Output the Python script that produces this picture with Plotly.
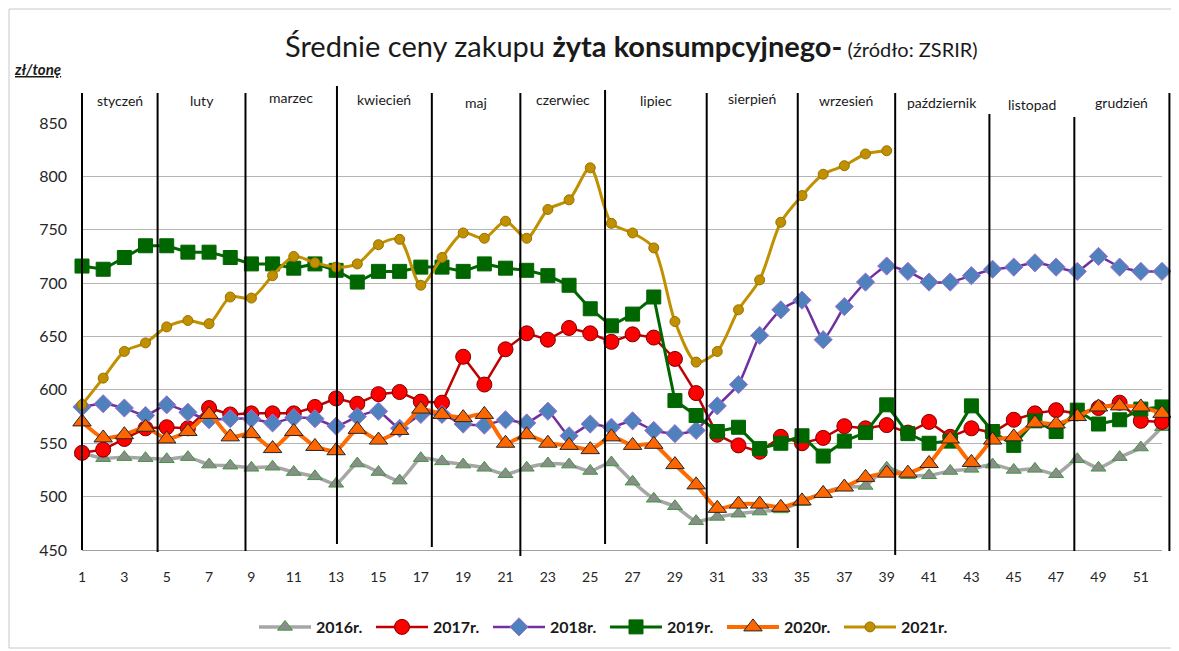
import plotly.graph_objects as go

weeks = list(range(1, 53))
tick_weeks = list(range(1, 53, 2))

y2016 = [541, 536, 537, 536, 535, 537, 530, 529, 527, 528,
         523, 519, 512, 531, 523, 515, 536, 533, 530, 527,
         521, 527, 531, 530, 524, 532, 514, 498, 491, 477,
         481, 484, 486, 488, 495, 504, 509, 510, 527, 520,
         520, 524, 526, 530, 525, 526, 521, 535, 527, 537,
         546, 565]
y2017 = [541, 544, 554, 564, 565, 564, 583, 577, 578, 578,
         578, 584, 592, 587, 596, 598, 589, 588, 631, 605,
         638, 653, 647, 658, 653, 645, 652, 649, 629, 597,
         558, 548, 542, 556, 550, 555, 566, 564, 567, 560,
         570, 556, 564, 560, 572, 578, 581, 578, 583, 588,
         571, 570]
y2018 = [584, 587, 583, 576, 586, 579, 572, 573, 573, 569,
         574, 573, 566, 575, 580, 564, 577, 577, 568, 567,
         572, 569, 580, 557, 568, 565, 571, 562, 559, 562,
         585, 605, 651, 675, 684, 647, 678, 701, 716, 711,
         701, 701, 707, 713, 715, 719, 715, 711, 725, 715,
         711, 711]
y2019 = [716, 713, 724, 735, 735, 729, 729, 724, 718, 718,
         714, 718, 712, 701, 711, 711, 715, 715, 711, 718,
         714, 712, 707, 698, 676, 660, 671, 687, 590, 576,
         561, 565, 545, 550, 557, 538, 552, 560, 586, 559,
         550, 552, 585, 561, 548, 571, 561, 581, 568, 572,
         582, 584]
y2020 = [570, 555, 558, 565, 554, 561, 577, 556, 559, 545,
         561, 547, 543, 563, 553, 562, 582, 577, 574, 577,
         550, 558, 550, 548, 544, 556, 548, 549, 530, 511,
         489, 493, 493, 490, 496, 503, 509, 518, 522, 522,
         531, 554, 532, 553, 556, 569, 568, 575, 584, 585,
         584, 578]
y2021 = [586, 611, 636, 644, 659, 665, 662, 687, 686, 707,
         725, 719, 715, 718, 736, 741, 698, 724, 747, 742,
         758, 742, 769, 778, 808, 756, 747, 733, 664, 626,
         636, 675, 703, 757, 782, 802, 810, 821, 824] + [None] * 13

series_names = ["2016r.", "2017r.", "2018r.", "2019r.", "2020r.", "2021r."]

months = ["styczeń", "luty", "marzec", "kwiecień", "maj", "czerwiec",
          "lipiec", "sierpień", "wrzesień", "październik", "listopad", "grudzień"]
month_ends = [4.57, 8.72, 13.04, 17.52, 21.7, 25.7, 30.5, 34.8, 39.4, 43.85, 47.86, 52.35]

# ---- layout geometry (reference-screen pixels; page body adds an 8px offset) ----
OFF = 8
SW, SH = 1179, 651
PX0, PX1 = 82, 1162     # plot area left/right on screen
PY0, PY1 = 123, 550     # plot area top/bottom on screen
W, H = SW - OFF, SH - OFF
L, T = PX0 - OFF, PY0 - OFF
R, B = W - (PX1 - OFF), H - (PY1 - OFF)
PW, PH = PX1 - PX0, PY1 - PY0
XMIN, XMAX = 1, 52


def px_x(px):
    return (px - PX0) / PW


def px_y(py):
    return (PY1 - py) / PH


def wk_x(w):
    return (w - XMIN) / (XMAX - XMIN)


FONT = "Lato"
fig = go.Figure()

styles = [
    dict(line=dict(color="#a6a6a6", width=3.5, shape="spline", smoothing=0.6),
         marker=dict(symbol="triangle-up", size=13, color="#8c8c8c",
                     line=dict(color="#3d9a3d", width=1))),
    dict(line=dict(color="#c00000", width=2.5),
         marker=dict(symbol="circle", size=15, color="#ff0000",
                     line=dict(color="#7a0000", width=1))),
    dict(line=dict(color="#7030a0", width=2.5, shape="spline", smoothing=0.5),
         marker=dict(symbol="diamond", size=14, color="#4f81bd",
                     line=dict(color="#a070d0", width=1))),
    dict(line=dict(color="#006600", width=3),
         marker=dict(symbol="square", size=14, color="#006600",
                     line=dict(color="#006600", width=1))),
    dict(line=dict(color="#ff6a00", width=4, shape="spline", smoothing=0.6),
         marker=dict(symbol="triangle-up", size=16, color="#ff6600",
                     line=dict(color="#262626", width=1))),
    dict(line=dict(color="#c09000", width=3, shape="spline", smoothing=0.8),
         marker=dict(symbol="circle", size=10, color="#c09000",
                     line=dict(color="#9a7000", width=1))),
]

for name, ys, st in zip(series_names, [y2016, y2017, y2018, y2019, y2020, y2021], styles):
    fig.add_trace(go.Scatter(x=weeks, y=ys, name=name, mode="lines+markers",
                             line=st["line"], marker=st["marker"],
                             cliponaxis=False, connectgaps=False))

shapes = []
shapes.append(dict(type="line", xref="paper", yref="paper",
                   x0=0, x1=0, y0=px_y(550), y1=px_y(93),
                   line=dict(color="black", width=2)))
tops = [93, 93, 86, 93, 93, 90, 93, 93, 93, 114, 117, 93]
bots = [552, 551, 544, 547, 556, 544, 544, 548, 555, 550, 551, 551]
for w, t, b in zip(month_ends, tops, bots):
    xp = wk_x(w)
    shapes.append(dict(type="line", xref="paper", yref="paper",
                       x0=xp, x1=xp, y0=px_y(b), y1=px_y(t),
                       line=dict(color="black", width=2)))
shapes.append(dict(type="rect", xref="paper", yref="paper",
                   x0=px_x(9), x1=px_x(1175), y0=px_y(648), y1=px_y(9),
                   line=dict(color="#c8c8c8", width=1), layer="below"))

annotations = []
starts = [1] + month_ends[:-1]
label_y = [101, 101, 98, 100, 103, 100, 101, 99, 101, 103, 105, 103]
for m, s, e, ly in zip(months, starts, month_ends, label_y):
    annotations.append(dict(text=m, xref="paper", yref="paper",
                            x=wk_x((s + e) / 2), y=px_y(ly),
                            xanchor="center", yanchor="middle", showarrow=False,
                            font=dict(family=FONT, size=14, color="#1a1a1a")))

annotations.append(dict(
    text="Średnie ceny zakupu <b>żyta konsumpcyjnego-</b>"
         "<span style='font-size:20px'> (źródło: ZSRIR)</span>",
    xref="paper", yref="paper", x=px_x(631), y=px_y(45),
    xanchor="center", yanchor="middle", showarrow=False,
    font=dict(family=FONT, size=29, color="#1a1a1a")))
annotations.append(dict(
    text="<b><i><u>zł/tonę</u></i></b>", xref="paper", yref="paper",
    x=px_x(12), y=px_y(69), xanchor="left", yanchor="middle", showarrow=False,
    font=dict(family=FONT, size=15, color="#1a1a1a")))

fig.update_layout(
    width=W, height=H,
    margin=dict(l=L, r=R, t=T, b=B, autoexpand=False),
    paper_bgcolor="white", plot_bgcolor="white",
    font=dict(family=FONT, size=15, color="#262626"),
    showlegend=True,
    legend=dict(orientation="h", x=px_x(605), xanchor="center",
                y=px_y(627), yanchor="middle",
                font=dict(family=FONT, size=16, color="#1a1a1a", weight="bold"),
                entrywidth=50, entrywidthmode="pixels", itemwidth=52,
                bgcolor="rgba(0,0,0,0)"),
    shapes=shapes,
    annotations=annotations,
    xaxis=dict(range=[XMIN, XMAX], tickmode="array", tickvals=tick_weeks,
               ticktext=[str(t) for t in tick_weeks], showgrid=False,
               zeroline=False, showline=True, linecolor="#a0a0a0", linewidth=1,
               ticks="", ticklabelstandoff=14,
               tickfont=dict(family=FONT, size=14, color="#262626")),
    yaxis=dict(range=[450, 850], dtick=50, showgrid=True, gridcolor="#b4b4b4",
               gridwidth=1, zeroline=False, showline=False, ticks="",
               ticklabelstandoff=14,
               tickfont=dict(family=FONT, size=16, color="#262626")),
)

fig.write_html("out.html")
